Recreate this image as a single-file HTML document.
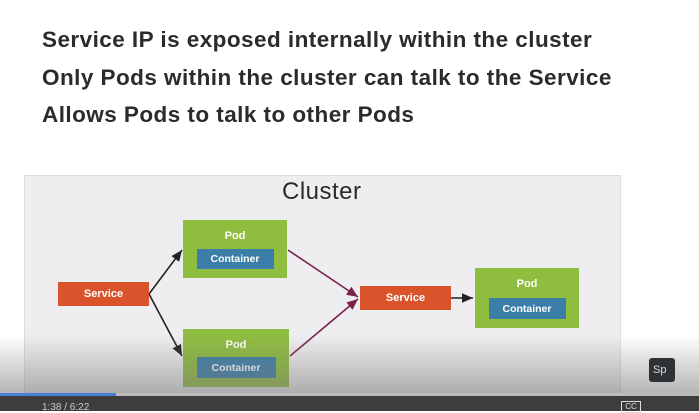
<!DOCTYPE html>
<html><head><style>
body{margin:0;width:699px;height:411px;overflow:hidden;background:#fff;position:relative;font-family:"Liberation Sans",sans-serif}
.t{position:absolute;left:42px;font-size:22.5px;font-weight:bold;color:#2b2b2b;letter-spacing:0.45px}
.b{position:absolute;color:#fff;font-weight:bold;font-size:11px;display:flex;align-items:center;justify-content:center}
.svc{background:#d9532b}
.pod{background:#8fbd3f;justify-content:flex-start;flex-direction:column}
.ct{background:#3b7fa8;font-size:10.5px}
</style></head><body>
<div class="t" style="top:27px">Service IP is exposed internally within the cluster</div>
<div class="t" style="top:65px">Only Pods within the cluster can talk to the Service</div>
<div class="t" style="top:102px">Allows Pods to talk to other Pods</div>
<div style="position:absolute;left:24px;top:175px;width:595px;height:225px;background:#eeeef0;border:1px solid #ddd"></div>
<div style="position:absolute;left:282px;top:178px;font-size:24px;color:#2b2b2b;letter-spacing:0.5px">Cluster</div>
<svg style="position:absolute;left:0;top:0" width="699" height="411">
<defs><marker id="a" markerWidth="8" markerHeight="8" refX="7" refY="4" orient="auto"><path d="M0,1 L7,4 L0,7z" fill="#222"/></marker>
<marker id="m" markerWidth="8" markerHeight="8" refX="7" refY="4" orient="auto"><path d="M0,1 L7,4 L0,7z" fill="#7a2248"/></marker></defs>
<g stroke="#222" stroke-width="1.6" fill="none">
<line x1="149" y1="294" x2="182" y2="250" marker-end="url(#a)"/>
<line x1="149" y1="294" x2="182" y2="356" marker-end="url(#a)"/>
<line x1="451" y1="298" x2="473" y2="298" marker-end="url(#a)"/></g>
<g stroke="#7a2248" stroke-width="1.6" fill="none">
<line x1="288" y1="250" x2="358" y2="297" marker-end="url(#m)"/>
<line x1="290" y1="356" x2="358" y2="299" marker-end="url(#m)"/></g>
</svg>
<div class="b svc" style="left:58px;top:282px;width:91px;height:24px">Service</div>
<div class="b svc" style="left:360px;top:286px;width:91px;height:24px">Service</div>
<div class="b pod" style="left:183px;top:220px;width:104px;height:58px"><div style="margin-top:10px">Pod</div><div class="b ct" style="position:static;width:77px;height:20px;margin-top:7px">Container</div></div>
<div class="b pod" style="left:183px;top:329px;width:106px;height:58px"><div style="margin-top:10px">Pod</div><div class="b ct" style="position:static;width:79px;height:21px;margin-top:6px">Container</div></div>
<div class="b pod" style="left:475px;top:268px;width:104px;height:60px"><div style="margin-top:10px">Pod</div><div class="b ct" style="position:static;width:77px;height:21px;margin-top:8px">Container</div></div>
<div style="position:absolute;left:0;top:335px;width:699px;height:58px;background:linear-gradient(rgba(120,120,120,0),rgba(120,120,120,0.55))"></div>
<div style="position:absolute;left:649px;top:358px;width:22px;height:24px;background:#2e3135;border-radius:3px;color:#ddd;font-size:11px;line-height:24px;padding-left:4px">Sp</div>
<div style="position:absolute;left:0;top:393px;width:699px;height:3px;background:#bbb"></div>
<div style="position:absolute;left:0;top:393px;width:116px;height:3px;background:#4a7fd8"></div>
<div style="position:absolute;left:0;top:396px;width:699px;height:15px;background:#3d3d3d"></div>
<div style="position:absolute;left:42px;top:402px;color:#ccc;font-size:10px">1:38 / 6:22</div>
<div style="position:absolute;left:621px;top:401px;width:18px;height:10px;border:1px solid #ddd;color:#ddd;font-size:8px;line-height:10px;text-align:center">CC</div>
</body></html>
